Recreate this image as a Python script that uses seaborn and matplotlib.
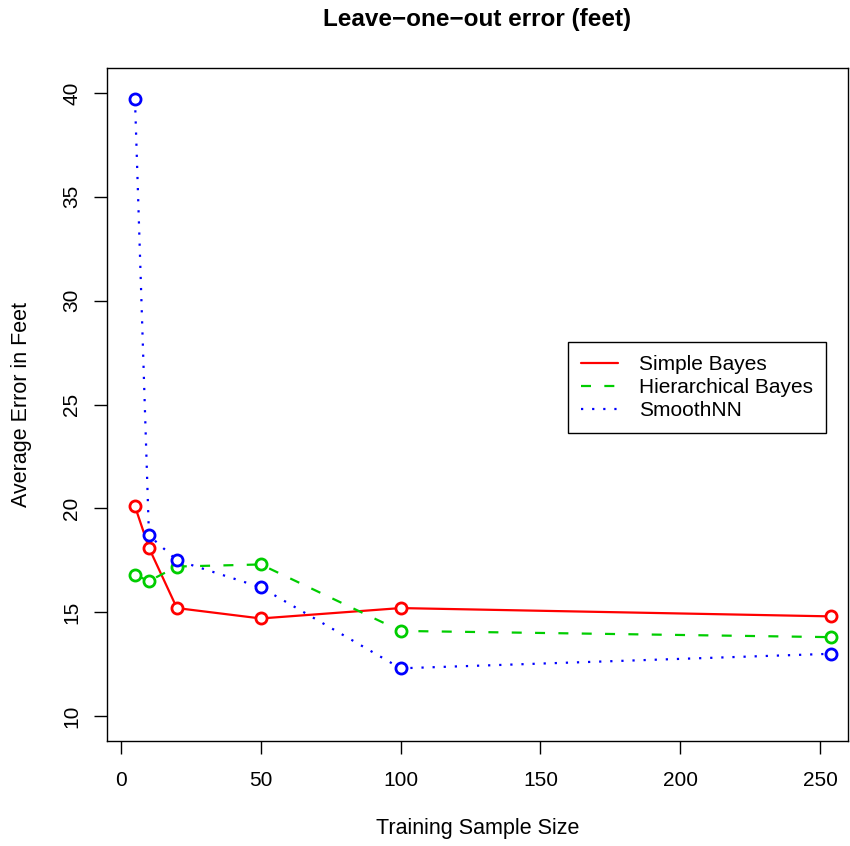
import pandas as pd
import matplotlib
matplotlib.use("Agg")
import matplotlib.pyplot as plt
import seaborn as sns
from matplotlib.lines import Line2D

# training sample sizes and leave-one-out errors (feet)
sizes = [5, 10, 20, 50, 100, 254]
simple_bayes = [20.1, 18.1, 15.2, 14.7, 15.2, 14.8]
hier_bayes = [16.8, 16.5, 17.2, 17.3, 14.1, 13.8]
smooth_nn = [39.7, 18.7, 17.5, 16.2, 12.3, 13.0]

series_names = ["Simple Bayes", "Hierarchical Bayes", "SmoothNN"]
x_ticks = [0, 50, 100, 150, 200, 250]
y_ticks = [10, 15, 20, 25, 30, 35, 40]


def main():
    sns.set_style("ticks")
    plt.rcParams['font.family'] = ['Liberation Sans', 'DejaVu Sans']
    plt.rcParams['text.color'] = 'black'
    plt.rcParams['axes.labelcolor'] = 'black'

    df = pd.DataFrame({"size": sizes, series_names[0]: simple_bayes,
                       series_names[1]: hier_bayes, series_names[2]: smooth_nn})

    fig = plt.figure(figsize=(8.5, 8.46), dpi=100)
    ax = fig.add_axes([0.1259, 0.1241, 0.8717, 0.7955])

    styles = [
        ("#FF0000", "-"),
        ("#00CD00", (0, (4.5, 6))),
        ("#0000FF", (0, (1, 4))),
    ]
    for name, (col, ls) in zip(series_names, styles):
        sns.lineplot(data=df, x="size", y=name, ax=ax, color=col,
                     linestyle=ls, linewidth=1.6, marker="o", markersize=8,
                     markerfacecolor="white", markeredgecolor=col,
                     markeredgewidth=2, legend=False)

    ax.set_xlim(-5, 260)
    ax.set_ylim(8.8, 41.2)
    ax.set_xticks(x_ticks)
    ax.set_yticks(y_ticks)
    ax.tick_params(direction="out", length=9.4, width=1, labelsize=15,
                   color="black", labelcolor="black")
    ax.tick_params(axis="x", pad=12)
    ax.tick_params(axis="y", pad=9)
    for lab in ax.get_yticklabels():
        lab.set_rotation(90)
        lab.set_va("center")
    for sp in ax.spines.values():
        sp.set_visible(True)
        sp.set_color("black")
        sp.set_linewidth(1)

    ax.set_xlabel("Training Sample Size", fontsize=15.5, labelpad=20)
    ax.set_ylabel("Average Error in Feet", fontsize=15.5, labelpad=22)
    ax.set_title("Leave\u2212one\u2212out error (feet)", fontsize=17.5,
                 fontweight="bold", pad=30)

    handles = [Line2D([], [], color=c, linestyle=ls, linewidth=1.6)
               for c, ls in styles]
    leg = ax.legend(handles, series_names, loc="upper left",
                    bbox_to_anchor=(0.622, 0.593), fontsize=15,
                    frameon=True, fancybox=False, edgecolor="black",
                    framealpha=1, borderaxespad=0, handlelength=1.8,
                    handletextpad=1.0, labelspacing=0.2, borderpad=0.62)
    leg.get_frame().set_linewidth(1)

    fig.savefig("out.png", dpi=100)


if __name__ == "__main__":
    main()
